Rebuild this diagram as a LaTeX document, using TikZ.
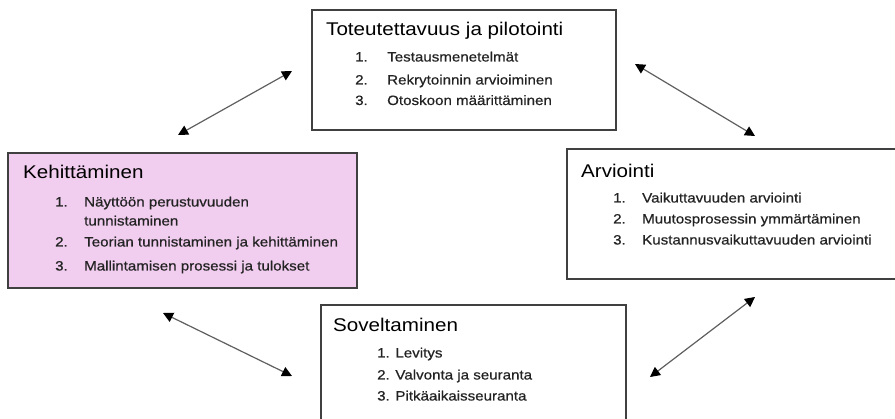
\documentclass[tikz,border=0pt]{standalone}
\usepackage{fontspec}
\setmainfont[FakeStretch=1.12]{Liberation Sans}
\newfontfamily\itemfont[FakeStretch=1.12,FakeBold=0.6]{Liberation Sans}
\usetikzlibrary{arrows.meta}
\definecolor{pinkfill}{RGB}{241,205,239}
\definecolor{boxline}{RGB}{64,64,64}
\definecolor{arrowline}{RGB}{95,95,95}
\definecolor{txt}{RGB}{35,35,35}
\tikzset{
  box/.style={draw=boxline, line width=1.5pt, rectangle, inner sep=0pt},
  ttl/.style={anchor=base west, inner sep=0pt, font=\fontsize{18.4}{20}\selectfont, text=black},
  itm/.style={anchor=base west, inner sep=0pt, font=\itemfont\fontsize{13.5}{15}\selectfont, text=txt},
  dblarrow/.style={draw=arrowline, line width=1.2pt,
    {Triangle[width=10pt,length=10pt,color=black]}-{Triangle[width=10pt,length=10pt,color=black]}}
}
\begin{document}
\begin{tikzpicture}[x=1pt,y=-1pt]
\useasboundingbox (0,0) rectangle (895,419);
\begin{scope}
\clip (0,0) rectangle (895,419);
% boxes
\node[box, minimum width=304pt, minimum height=120pt] (top) at (464,70) {};
\node[box, fill=pinkfill, minimum width=349pt, minimum height=135pt] (left) at (182.5,220.5) {};
\node[box, minimum width=333pt, minimum height=130pt] (right) at (733.5,214) {};
\node[box, minimum width=305pt, minimum height=120pt] (bottom) at (473.5,365) {};
\end{scope}
% top box text
\node[ttl] (t0) at (326,36) {Toteutettavuus ja pilotointi};
\node[itm] (t1n) at (355,61.5) {1.};
\node[itm] (t1) at (387,61.5) {Testausmenetelmät};
\node[itm] (t2n) at (355,84.5) {2.};
\node[itm] (t2) at (387,84.5) {Rekrytoinnin arvioiminen};
\node[itm] (t3n) at (355,105) {3.};
\node[itm] (t3) at (387,105) {Otoskoon määrittäminen};
% left box text
\node[ttl] (l0) at (23,179) {Kehittäminen};
\node[itm] (l1n) at (55,206.5) {1.};
\node[itm] (l1) at (84,206.5) {Näyttöön perustuvuuden};
\node[itm] (l1b) at (84,225.5) {tunnistaminen};
\node[itm] (l2n) at (55,246.5) {2.};
\node[itm] (l2) at (84,246.5) {Teorian tunnistaminen ja kehittäminen};
\node[itm] (l3n) at (55,270.5) {3.};
\node[itm] (l3) at (84,270.5) {Mallintamisen prosessi ja tulokset};
% right box text
\node[ttl] (r0) at (581,178) {Arviointi};
\node[itm] (r1n) at (613,202.5) {1.};
\node[itm] (r1) at (642,202.5) {Vaikuttavuuden arviointi};
\node[itm] (r2n) at (613,223.5) {2.};
\node[itm] (r2) at (642,223.5) {Muutosprosessin ymmärtäminen};
\node[itm] (r3n) at (613,244.5) {3.};
\node[itm] (r3) at (642,244.5) {Kustannusvaikuttavuuden arviointi};
% bottom box text
\node[ttl] (b0) at (333,332) {Soveltaminen};
\node[itm] (b1) at (377,357.5) {1. Levitys};
\node[itm] (b2) at (377,379.5) {2. Valvonta ja seuranta};
\node[itm] (b3) at (377,400.5) {3. Pitkäaikaisseuranta};
% arrows
\coordinate (a1s) at (178,135);
\coordinate (a1e) at (292,71);
\coordinate (a2s) at (635,64);
\coordinate (a2e) at (755,136);
\coordinate (a3s) at (163,313);
\coordinate (a3e) at (292,376);
\coordinate (a4s) at (755,297);
\coordinate (a4e) at (650,377);
\draw[dblarrow] (a1s) -- (a1e);
\draw[dblarrow] (a2s) -- (a2e);
\draw[dblarrow] (a3s) -- (a3e);
\draw[dblarrow] (a4s) -- (a4e);
\end{tikzpicture}
\end{document}
